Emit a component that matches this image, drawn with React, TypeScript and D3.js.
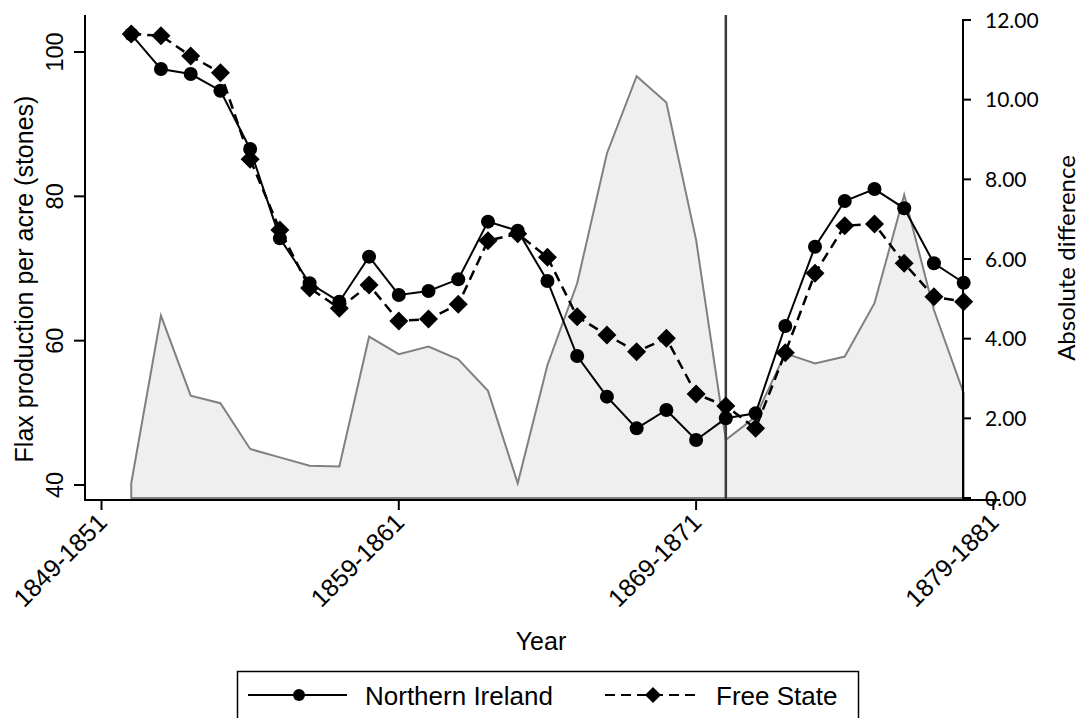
import { useEffect, useRef } from "react";
import * as d3 from "d3";

// periods on the x axis (1849-1851 ... 1879-1881)
const periods = d3.range(1849, 1880).map((y) => `${y}-${y + 2}`);
const tickPeriods = ["1849-1851", "1859-1861", "1869-1871", "1879-1881"];
// observed periods run 1850-1852 .. 1878-1880
const dataPeriods = periods.slice(1, 30);

const northernIreland = [
    102.45, 97.64, 96.95, 94.64, 86.56, 74.18, 67.95, 65.4, 71.64, 66.33,
    66.88, 68.5, 76.49, 75.24, 68.27, 57.87, 52.24, 47.85, 50.39, 46.24,
    49.24, 49.93, 62.03, 73.02, 79.35, 81.01, 78.34, 70.72, 68.03,
];
const freeState = [
    102.5, 102.26, 99.44, 97.13, 85.13, 75.33, 67.3, 64.48, 67.71, 62.72,
    63.0, 65.03, 73.86, 74.8, 71.55, 63.32, 60.78, 58.47, 60.33, 52.61,
    50.95, 47.85, 58.34, 69.33, 75.93, 76.16, 70.72, 66.09, 65.4,
];
const absDiff = [
    0.37, 4.58, 2.57, 2.38, 1.23, 1.02, 0.81, 0.79, 4.05, 3.61,
    3.8, 3.48, 2.69, 0.37, 3.34, 5.39, 8.65, 10.59, 9.93, 6.48,
    1.46, 2.04, 3.63, 3.38, 3.55, 4.89, 7.61, 4.72, 2.63,
];
const leftTicks = [40, 60, 80, 100];
const rightTicks = [0, 2, 4, 6, 8, 10, 12];
const breakPeriod = "1870-1872";

export default function App() {
    const svgRef = useRef<SVGSVGElement | null>(null);

    useEffect(() => {
        if (!svgRef.current) return;
        d3.select(svgRef.current).selectAll("*").remove();

        const svg = d3.select(svgRef.current);
        const arial = "'Liberation Sans', Arial, sans-serif";
        const calibri = "Lato, 'Open Sans', sans-serif";

        const x = d3.scalePoint<string>().domain(periods).range([101.5, 993.4]);
        const yL = d3.scaleLinear().domain([40, 100]).range([485, 52]);
        const yR = d3.scaleLinear().domain([0, 12]).range([498, 20]);

        // shaded absolute difference
        const diffData = dataPeriods.map((p, i) => ({ p, v: absDiff[i] }));
        const area = d3
            .area<{ p: string; v: number }>()
            .x((d) => x(d.p)!)
            .y0(yR(0))
            .y1((d) => yR(d.v));
        svg.append("path")
            .attr("d", area(diffData) + "Z")
            .attr("fill", "#efefef")
            .attr("stroke", "#808080")
            .attr("stroke-width", 2)
            .attr("stroke-linejoin", "miter");

        // vertical break line
        svg.append("line")
            .attr("x1", x(breakPeriod)!)
            .attr("x2", x(breakPeriod)!)
            .attr("y1", 15)
            .attr("y2", 500)
            .attr("stroke", "#3c3c3c")
            .attr("stroke-width", 2.5);

        // left axis
        svg.append("line")
            .attr("x1", 85).attr("x2", 85)
            .attr("y1", 15).attr("y2", 501)
            .attr("stroke", "#000").attr("stroke-width", 2);
        const lt = svg.selectAll(".lt").data(leftTicks).enter().append("g")
            .attr("transform", (d) => `translate(0,${yL(d)})`);
        lt.append("line").attr("x1", 74).attr("x2", 85)
            .attr("stroke", "#000").attr("stroke-width", 2);
        lt.append("text")
            .attr("transform", "translate(63,0) rotate(-90)")
            .attr("text-anchor", "middle")
            .attr("font-family", arial)
            .attr("font-size", 23.5)
            .text((d) => d);
        svg.append("text")
            .attr("transform", "translate(33,279) rotate(-90)")
            .attr("text-anchor", "middle")
            .attr("font-family", arial)
            .attr("font-size", 25)
            .text("Flax production per acre (stones)");

        // right axis
        svg.append("line")
            .attr("x1", 963).attr("x2", 963)
            .attr("y1", yR(12) - 1).attr("y2", 501)
            .attr("stroke", "#000").attr("stroke-width", 2);
        const rt = svg.selectAll(".rt").data(rightTicks).enter().append("g")
            .attr("transform", (d) => `translate(0,${yR(d)})`);
        rt.append("line").attr("x1", 963).attr("x2", 971)
            .attr("stroke", "#000").attr("stroke-width", 2);
        rt.append("text")
            .attr("x", 985)
            .attr("dy", "0.36em")
            .attr("font-family", calibri)
            .attr("font-size", 21)
            .text((d) => d3.format(".2f")(d));
        svg.append("text")
            .attr("transform", "translate(1075,258) rotate(-90)")
            .attr("text-anchor", "middle")
            .attr("font-family", calibri)
            .attr("font-size", 24)
            .text("Absolute difference");

        // bottom axis
        svg.append("line")
            .attr("x1", 84).attr("x2", 1000)
            .attr("y1", 500).attr("y2", 500)
            .attr("stroke", "#000").attr("stroke-width", 2);
        const bt = svg.selectAll(".bt").data(tickPeriods).enter().append("g")
            .attr("transform", (d) => `translate(${x(d)},0)`);
        bt.append("line").attr("y1", 500).attr("y2", 510)
            .attr("stroke", "#000").attr("stroke-width", 2);
        bt.append("text")
            .attr("transform", "translate(7,524) rotate(-45)")
            .attr("text-anchor", "end")
            .attr("font-family", arial)
            .attr("font-size", 25)
            .text((d) => d);
        svg.append("text")
            .attr("x", 541)
            .attr("y", 650)
            .attr("text-anchor", "middle")
            .attr("font-family", arial)
            .attr("font-size", 25)
            .text("Year");

        // series
        const line = d3.line<number>()
            .x((_, i) => x(dataPeriods[i])!)
            .y((d) => yL(d));
        const diamond = (s: number) => `M0,${-s}L${s},0L0,${s}L${-s},0Z`;

        svg.append("path")
            .attr("d", line(freeState))
            .attr("fill", "none")
            .attr("stroke", "#000")
            .attr("stroke-width", 2.5)
            .attr("stroke-dasharray", "10,6");
        svg.append("path")
            .attr("d", line(northernIreland))
            .attr("fill", "none")
            .attr("stroke", "#000")
            .attr("stroke-width", 2);

        svg.selectAll(".fs").data(freeState).enter().append("path")
            .attr("transform", (d, i) => `translate(${x(dataPeriods[i])},${yL(d)})`)
            .attr("d", diamond(9.5))
            .attr("fill", "#000");
        svg.selectAll(".ni").data(northernIreland).enter().append("circle")
            .attr("cx", (_, i) => x(dataPeriods[i])!)
            .attr("cy", (d) => yL(d))
            .attr("r", 7)
            .attr("fill", "#000");

        // legend
        const lg = svg.append("g");
        lg.append("rect")
            .attr("x", 237.5).attr("y", 671.5)
            .attr("width", 621).attr("height", 60)
            .attr("fill", "#fff")
            .attr("stroke", "#000").attr("stroke-width", 1.5);
        lg.append("line").attr("x1", 248).attr("x2", 347)
            .attr("y1", 695).attr("y2", 695)
            .attr("stroke", "#000").attr("stroke-width", 2);
        lg.append("circle").attr("cx", 299).attr("cy", 695).attr("r", 6).attr("fill", "#000");
        lg.append("text").attr("x", 365).attr("y", 705)
            .attr("font-family", arial).attr("font-size", 26)
            .text("Northern Ireland");
        lg.append("line").attr("x1", 605).attr("x2", 700)
            .attr("y1", 695).attr("y2", 695)
            .attr("stroke", "#000").attr("stroke-width", 2)
            .attr("stroke-dasharray", "10,6");
        lg.append("path")
            .attr("transform", "translate(653,695)")
            .attr("d", diamond(8))
            .attr("fill", "#000");
        lg.append("text").attr("x", 716).attr("y", 705)
            .attr("font-family", arial).attr("font-size", 26)
            .text("Free State");
    }, []);

    return (
        <svg
            ref={svgRef}
            width={1083}
            height={718}
            style={{ position: "absolute", left: 0, top: 0, background: "#fff" }}
        />
    );
}
